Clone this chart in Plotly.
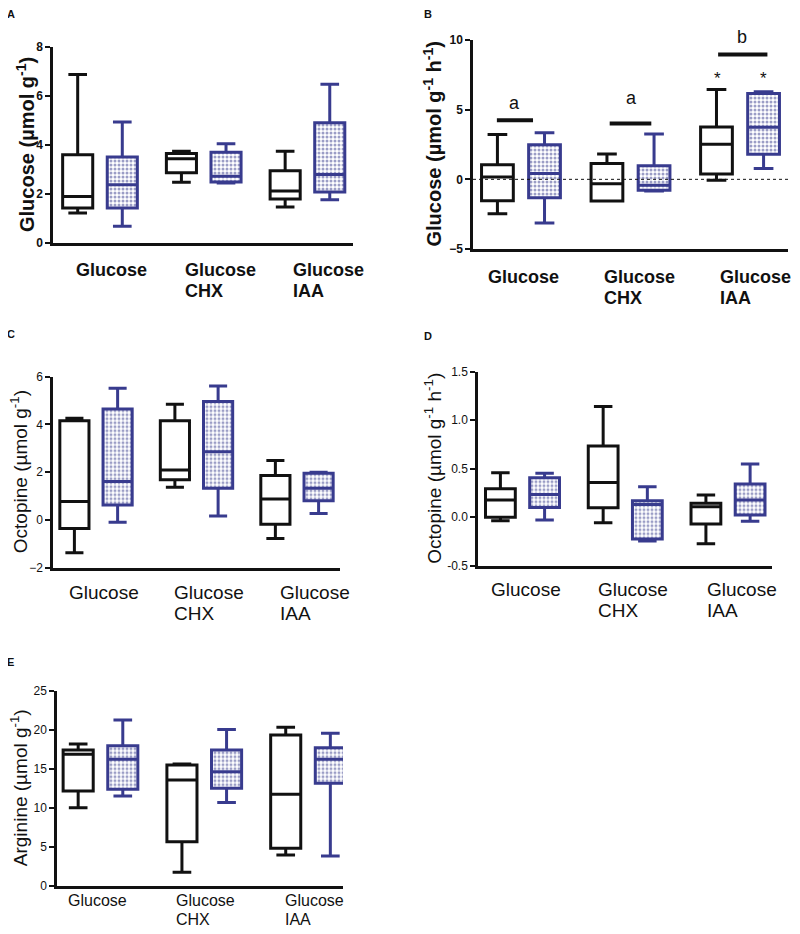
import plotly.graph_objects as go

# ---------------- data ----------------
groups = ["Glucose", "Glucose<br>CHX", "Glucose<br>IAA"]

A_black_min = [1.22, 2.48, 1.47]
A_black_q1 = [1.43, 2.87, 1.80]
A_black_med = [1.90, 3.44, 2.12]
A_black_q3 = [3.60, 3.65, 2.95]
A_black_max = [6.88, 3.75, 3.75]
A_blue_min = [0.68, 2.45, 1.77]
A_blue_q1 = [1.43, 2.49, 2.08]
A_blue_med = [2.38, 2.72, 2.80]
A_blue_q3 = [3.51, 3.70, 4.91]
A_blue_max = [4.94, 4.05, 6.48]

B_black_min = [-2.47, -1.56, -0.07]
B_black_q1 = [-1.53, -1.56, 0.38]
B_black_med = [0.17, -0.31, 2.52]
B_black_q3 = [1.05, 1.13, 3.76]
B_black_max = [3.21, 1.82, 6.45]
B_blue_min = [-3.14, -0.84, 0.77]
B_blue_q1 = [-1.32, -0.79, 1.80]
B_blue_med = [0.41, -0.43, 3.74]
B_blue_q3 = [2.49, 0.98, 6.16]
B_blue_max = [3.35, 3.26, 6.28]

C_black_min = [-1.37, 1.37, -0.78]
C_black_q1 = [-0.36, 1.68, -0.18]
C_black_med = [0.77, 2.09, 0.88]
C_black_q3 = [4.16, 4.16, 1.86]
C_black_max = [4.26, 4.85, 2.49]
C_blue_min = [-0.10, 0.17, 0.27]
C_blue_q1 = [0.63, 1.33, 0.80]
C_blue_med = [1.61, 2.86, 1.33]
C_blue_q3 = [4.65, 4.96, 1.96]
C_blue_max = [5.52, 5.61, 2.00]

D_black_min = [-0.036, -0.057, -0.273]
D_black_q1 = [0.0, 0.098, -0.07]
D_black_med = [0.177, 0.359, 0.108]
D_black_q3 = [0.294, 0.734, 0.143]
D_black_max = [0.459, 1.14, 0.228]
D_blue_min = [-0.03, -0.245, -0.043]
D_blue_q1 = [0.101, -0.225, 0.022]
D_blue_med = [0.235, 0.13, 0.177]
D_blue_q3 = [0.407, 0.17, 0.342]
D_blue_max = [0.452, 0.315, 0.548]

E_black_min = [10.0, 1.71, 3.93]
E_black_q1 = [12.14, 5.64, 4.79]
E_black_med = [16.84, 13.55, 11.71]
E_black_q3 = [17.39, 15.47, 19.32]
E_black_max = [18.16, 15.6, 20.3]
E_blue_min = [11.5, 10.68, 3.8]
E_blue_q1 = [12.35, 12.48, 13.12]
E_blue_med = [16.2, 14.6, 16.2]
E_blue_q3 = [17.95, 17.39, 17.69]
E_blue_max = [21.24, 20.04, 19.53]

A_ticks = [0, 2, 4, 6, 8]
B_ticks = [-5, 0, 5, 10]
C_ticks = [-2, 0, 2, 4, 6]
D_ticks = [-0.5, 0.0, 0.5, 1.0, 1.5]
D_ticktext = ["-0.5", "0.0", "0.5", "1.0", "1.5"]
E_ticks = [0, 5, 10, 15, 20, 25]

B_sig_labels = ["a", "a", "b"]
B_star_labels = ["*", "*"]

# ---------------- styling / layout ----------------
W, H = 800, 934
PAGE_OFF = 8  # default body margin of the page
BLACK = "#111111"
BLUE = "#383b8e"
FONT = "Arial, Liberation Sans, sans-serif"
OFF = 0.215
BW = 0.29

def px_x(p):
    return (p - PAGE_OFF) / W

def px_y(p):
    return 1 - (p - PAGE_OFF) / H

panels = [
    dict(letter="A", ax="", dom_x=(53, 353), dom_y=(47, 243), xr=(0.547, 3.439), yr=(0, 8),
         ticks=A_ticks, ticktext=None, bold=True,
         title="Glucose (µmol g<sup>-1</sup>)", tsize=20, tx=25,
         lab_off=[-0.25, -0.20, -0.16], lab_top=258, lab_gap=21, lab_size=18, letter_pos=(11, 14),
         black=(A_black_min, A_black_q1, A_black_med, A_black_q3, A_black_max),
         blue=(A_blue_min, A_blue_q1, A_blue_med, A_blue_q3, A_blue_max)),
    dict(letter="B", ax="2", dom_x=(473, 788), dom_y=(40, 249), xr=(0.562, 3.438), yr=(-5, 10),
         ticks=B_ticks, ticktext=None, bold=True,
         title="Glucose (µmol g<sup>-1</sup> h<sup>-1</sup>)", tsize=20, tx=432,
         lab_off=[-0.32, -0.26, -0.20], lab_top=265, lab_gap=21, lab_size=18, letter_pos=(428, 14),
         black=(B_black_min, B_black_q1, B_black_med, B_black_q3, B_black_max),
         blue=(B_blue_min, B_blue_q1, B_blue_med, B_blue_q3, B_blue_max)),
    dict(letter="C", ax="3", dom_x=(53, 340), dom_y=(376.7, 567.7), xr=(0.572, 3.428), yr=(-2, 6),
         ticks=C_ticks, ticktext=None, bold=False,
         title="Octopine (µmol g<sup>-1</sup>)", tsize=19, tx=19,
         lab_off=[-0.29, -0.24, -0.19], lab_top=580, lab_gap=21, lab_size=19, letter_pos=(11, 334),
         black=(C_black_min, C_black_q1, C_black_med, C_black_q3, C_black_max),
         blue=(C_blue_min, C_blue_q1, C_blue_med, C_blue_q3, C_blue_max)),
    dict(letter="D", ax="4", dom_x=(478, 772), dom_y=(371.7, 565.7), xr=(0.567, 3.428), yr=(-0.5, 1.5),
         ticks=D_ticks, ticktext=D_ticktext, bold=False,
         title="Octopine (µmol g<sup>-1</sup> h<sup>-1</sup>)", tsize=19, tx=433,
         lab_off=[-0.33, -0.28, -0.22], lab_top=577, lab_gap=21, lab_size=19, letter_pos=(428, 336),
         black=(D_black_min, D_black_q1, D_black_med, D_black_q3, D_black_max),
         blue=(D_blue_min, D_blue_q1, D_blue_med, D_blue_q3, D_blue_max)),
    dict(letter="E", ax="5", dom_x=(57, 343), dom_y=(690.7, 885.7), xr=(0.581, 3.337), yr=(0, 25),
         ticks=E_ticks, ticktext=None, bold=False,
         title="Arginine (µmol g<sup>-1</sup>)", tsize=19, tx=19,
         lab_off=[-0.33, -0.29, -0.24], lab_top=890, lab_gap=19, lab_size=16, letter_pos=(10, 662),
         black=(E_black_min, E_black_q1, E_black_med, E_black_q3, E_black_max),
         blue=(E_blue_min, E_blue_q1, E_blue_med, E_blue_q3, E_blue_max)),
]

fig = go.Figure()
annotations = []
shapes = []
layout = {}

positions = [1, 2, 3]

for p in panels:
    xa = "x" + p["ax"]
    ya = "y" + p["ax"]
    for series, col, sign in ((p["black"], BLACK, -1), (p["blue"], BLUE, 1)):
        mn, q1, md, q3, mx = series
        xs = [g + sign * OFF for g in positions]
        if col == BLUE:
            fig.add_trace(go.Bar(
                x=xs, base=q1, y=[b - a for a, b in zip(q1, q3)], width=BW,
                xaxis=xa, yaxis=ya, showlegend=False, hoverinfo="skip",
                marker=dict(color="white", line=dict(width=0),
                            pattern=dict(shape=".", fgcolor=BLUE, bgcolor="white",
                                         size=4, solidity=0.45))))
        fig.add_trace(go.Box(
            x=xs, q1=q1, median=md, q3=q3, lowerfence=mn, upperfence=mx,
            width=BW, whiskerwidth=0.62, boxpoints=False,
            line=dict(color=col, width=3), fillcolor="rgba(0,0,0,0)",
            xaxis=xa, yaxis=ya, showlegend=False))

    fw = "bold" if p["bold"] else "normal"
    tf = dict(family=FONT, size=12, color=BLACK, weight=fw)
    layout["xaxis" + p["ax"]] = dict(
        domain=[px_x(p["dom_x"][0]), px_x(p["dom_x"][1])], range=list(p["xr"]),
        anchor=ya, showline=True, linecolor=BLACK, linewidth=2.5, ticks="",
        showticklabels=False, showgrid=False, zeroline=False, fixedrange=True,
        automargin=False)
    yax = dict(
        domain=[px_y(p["dom_y"][1]), px_y(p["dom_y"][0])], range=list(p["yr"]),
        anchor=xa, showline=True, linecolor=BLACK, linewidth=2.5, ticks="outside",
        ticklen=5, tickwidth=2, tickcolor=BLACK, tickvals=p["ticks"], tickfont=tf,
        showgrid=False, zeroline=False, fixedrange=True, automargin=False)
    if p["ticktext"]:
        yax["ticktext"] = p["ticktext"]
    layout["yaxis" + p["ax"]] = yax

    # y-axis title
    annotations.append(dict(
        text=p["title"], xref="paper", yref="paper", x=px_x(p["tx"]),
        y=px_y((p["dom_y"][0] + p["dom_y"][1]) / 2), xanchor="center", yanchor="middle",
        textangle=-90, showarrow=False,
        font=dict(family=FONT, size=p["tsize"], color=BLACK, weight=fw)))
    # category labels (one annotation per text line for exact line spacing)
    for g, lab, off in zip(positions, groups, p["lab_off"]):
        for i, line in enumerate(lab.split("<br>")):
            annotations.append(dict(
                text=line, xref=xa, yref="paper", x=g + off,
                y=px_y(p["lab_top"] + i * p["lab_gap"]),
                xanchor="left", yanchor="top", align="left", showarrow=False,
                font=dict(family=FONT, size=p["lab_size"], color=BLACK, weight=fw)))
    # panel letter
    annotations.append(dict(
        text=p["letter"], xref="paper", yref="paper", x=px_x(p["letter_pos"][0]),
        y=px_y(p["letter_pos"][1]), xanchor="center", yanchor="middle", showarrow=False,
        font=dict(family=FONT, size=11, color=BLACK, weight="bold")))

# panel B extras: dotted zero line, significance bars, letters, asterisks
shapes.append(dict(type="line", xref="x2 domain", yref="y2", x0=0, x1=1, y0=0, y1=0,
                   line=dict(color=BLACK, width=1, dash="dot")))
bars_B = [(0.78, 1.11, 4.24), (1.81, 2.19, 4.0), (2.80, 3.25, 8.96)]
for x0, x1, yv in bars_B:
    shapes.append(dict(type="line", xref="x2", yref="y2", x0=x0, x1=x1, y0=yv, y1=yv,
                       line=dict(color=BLACK, width=4)))
# letter positions: x in axis units, y in page pixels
letters_B = [(0.94, 103), (2.01, 98), (3.02, 37)]
for (xv, ypx), t in zip(letters_B, B_sig_labels):
    annotations.append(dict(text=t, xref="x2", yref="paper", x=xv, y=px_y(ypx), showarrow=False,
                            xanchor="center", yanchor="middle",
                            font=dict(family=FONT, size=18, color=BLACK)))
stars_B = [(2.79, 78), (3.21, 78)]
for (xv, ypx), t in zip(stars_B, B_star_labels):
    annotations.append(dict(text=t, xref="x2", yref="paper", x=xv, y=px_y(ypx), showarrow=False,
                            xanchor="center", yanchor="middle",
                            font=dict(family=FONT, size=17, color=BLACK)))

fig.update_layout(
    width=W, height=H, margin=dict(l=0, r=0, t=0, b=0, pad=0, autoexpand=False),
    paper_bgcolor="white", plot_bgcolor="white", showlegend=False,
    barmode="overlay", boxmode="overlay",
    annotations=annotations, shapes=shapes, **layout)

fig.write_html("out.html", config={"displayModeBar": False})
